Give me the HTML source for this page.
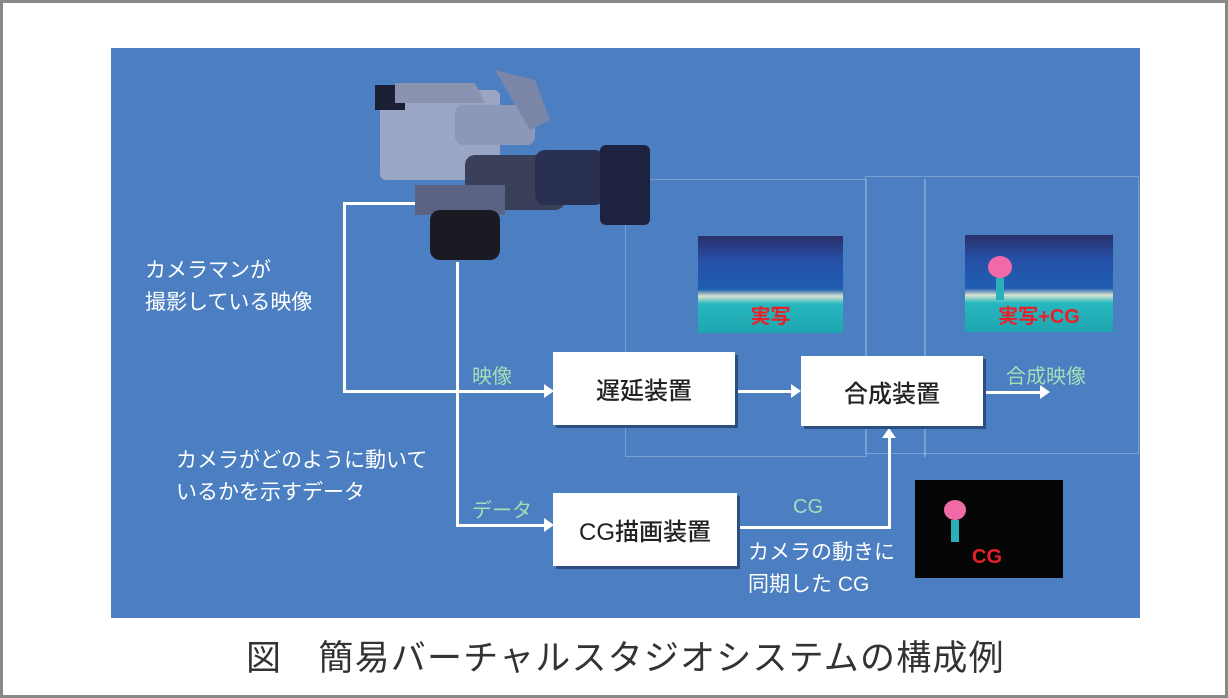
<!DOCTYPE html>
<html><head><meta charset="utf-8"><style>
body{margin:0;width:1228px;height:698px;position:relative;background:#fff;font-family:"Liberation Sans","Noto Sans CJK JP",sans-serif;overflow:hidden}
.frame{position:absolute;left:0;top:0;width:1222px;height:692px;border:3px solid #888}
.panel{position:absolute;left:111px;top:48px;width:1029px;height:570px;background:#4b7fc2}
.a{position:absolute}
.box{position:absolute;background:#fff;box-shadow:3px 3px 0 #2c4f80;font-size:24px;color:#222;display:flex;align-items:center;justify-content:center;font-weight:500}
.w{color:#fff;font-size:21px;line-height:32px}
.g{color:#a6dcb8;font-size:20px}
.ln{position:absolute;background:#fff}
.thin{position:absolute;border:1px solid rgba(255,255,255,0.25)}
</style></head><body>
<div class="frame"></div>
<div class="panel"></div>
<div class="thin" style="left:625px;top:179px;width:240px;height:276px"></div>
<div class="thin" style="left:865px;top:176px;width:272px;height:276px"></div>
<div class="thin" style="left:924px;top:179px;width:0;height:276px"></div>
<!-- camera -->
<svg class="a" style="left:355px;top:65px" width="300" height="200">
<rect x="25" y="25" width="120" height="90" rx="6" fill="#9aa6c4"/>
<rect x="20" y="20" width="30" height="25" fill="#1a1f33"/>
<path d="M40 18 h80 l10 20 h-90z" fill="#8a94b0"/>
<rect x="100" y="40" width="80" height="40" rx="8" fill="#8d98b8"/>
<path d="M140 5 l40 10 l15 40 l-20 10z" fill="#7c86a8"/>
<rect x="110" y="90" width="100" height="55" rx="10" fill="#3a3f5a"/>
<rect x="180" y="85" width="70" height="55" rx="10" fill="#2a3050"/>
<rect x="245" y="80" width="50" height="80" rx="6" fill="#1d2240"/>
<rect x="60" y="120" width="90" height="30" fill="#5a6384"/>
<rect x="75" y="145" width="70" height="50" rx="10" fill="#1a1a22"/>
</svg>
<!-- lines -->
<div class="ln" style="left:343px;top:202px;width:3px;height:190px"></div>
<div class="ln" style="left:343px;top:202px;width:72px;height:3px"></div>
<div class="ln" style="left:343px;top:390px;width:203px;height:3px"></div>
<div class="ln" style="left:456px;top:262px;width:3px;height:264px"></div>
<div class="ln" style="left:456px;top:524px;width:90px;height:3px"></div>
<div class="ln" style="left:738px;top:390px;width:55px;height:3px"></div>
<div class="ln" style="left:986px;top:391px;width:56px;height:3px"></div>
<div class="ln" style="left:740px;top:526px;width:151px;height:3px"></div>
<div class="ln" style="left:888px;top:436px;width:3px;height:93px"></div>
<svg class="a" style="left:0;top:0" width="1228" height="698">
<polygon points="544,384 554,391 544,398" fill="#fff"/>
<polygon points="544,518 554,525 544,532" fill="#fff"/>
<polygon points="791,384 801,391 791,398" fill="#fff"/>
<polygon points="1040,385 1050,392 1040,399" fill="#fff"/>
<polygon points="882,438 889,428 896,438" fill="#fff"/>
</svg>
<div class="box" style="left:553px;top:352px;width:182px;height:73px">遅延装置</div>
<div class="box" style="left:801px;top:356px;width:182px;height:70px">合成装置</div>
<div class="box" style="left:553px;top:493px;width:184px;height:73px">CG描画装置</div>
<!-- images -->
<div class="a" style="left:698px;top:236px;width:145px;height:97px;background:linear-gradient(#2a2f6a 0%,#2650a8 25%,#1f5eb0 55%,#d9e3d0 62%,#27b8c0 70%,#1ea5b0 100%)"></div>
<div class="a" style="left:698px;top:300px;width:145px;text-align:center;color:#e8202a;font-weight:bold;font-size:20px">実写</div>
<div class="a" style="left:965px;top:235px;width:148px;height:97px;background:linear-gradient(#2a2f6a 0%,#2650a8 25%,#1f5eb0 55%,#d9e3d0 62%,#27b8c0 70%,#1ea5b0 100%)"></div>
<div class="a" style="left:988px;top:256px;width:24px;height:22px;border-radius:50%;background:#f06aa8"></div>
<div class="a" style="left:996px;top:278px;width:8px;height:22px;background:#2ab0b8"></div>
<div class="a" style="left:965px;top:300px;width:148px;text-align:center;color:#e8202a;font-weight:bold;font-size:20px">実写+CG</div>
<div class="a" style="left:915px;top:480px;width:148px;height:98px;background:#050505"></div>
<div class="a" style="left:944px;top:500px;width:22px;height:20px;border-radius:50%;background:#f06aa8"></div>
<div class="a" style="left:951px;top:520px;width:8px;height:22px;background:#2ab0b8"></div>
<div class="a" style="left:972px;top:546px;color:#e8202a;font-weight:bold;font-size:20px">CG</div>
<!-- labels -->
<div class="a w" style="left:145px;top:255px">カメラマンが<br>撮影している映像</div>
<div class="a w" style="left:176px;top:445px">カメラがどのように動いて<br>いるかを示すデータ</div>
<div class="a w" style="left:748px;top:537px">カメラの動きに<br>同期した CG</div>
<div class="a g" style="left:472px;top:360px">映像</div>
<div class="a g" style="left:472px;top:494px">データ</div>
<div class="a g" style="left:793px;top:496px">CG</div>
<div class="a g" style="left:1006px;top:360px">合成映像</div>
<div class="a" style="left:246px;top:630px;font-size:35px;color:#333;letter-spacing:1.2px">図　簡易バーチャルスタジオシステムの構成例</div>
</body></html>
